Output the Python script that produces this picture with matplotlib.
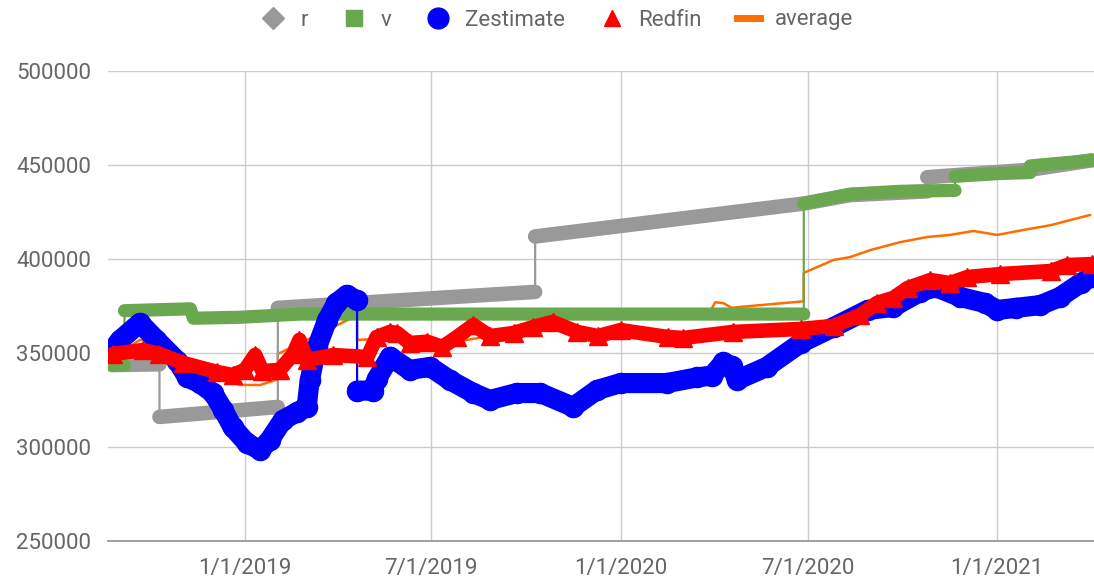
import numpy as np
import matplotlib
matplotlib.use("Agg")
import matplotlib.pyplot as plt
import matplotlib.dates as mdates
from matplotlib.lines import Line2D

plt.rcParams['font.family'] = ['Roboto', 'DejaVu Sans']

# --- data (None = a jump in the series) ---
r_dates = ['2018-08-25', '2018-10-10', None, '2018-10-10', '2019-02-02', None,
           '2019-02-02', '2019-10-10', None, '2019-10-10', '2020-06-27', '2020-08-11',
           '2020-10-25', None, '2020-10-25', '2021-02-02', '2021-04-03']
r_vals = [343600, 344000, None, 316000, 321300, None,
          374000, 382500, None, 412000, 429500, 434000,
          436000, None, 443500, 447500, 452500]

v_dates = ['2018-08-25', '2018-09-06', None, '2018-09-06', '2018-11-09', '2018-11-12',
           '2018-12-27', '2019-02-23', '2020-06-27', None, '2020-06-27', '2020-08-11',
           '2020-09-29', '2020-11-21', None, '2020-11-21', '2021-01-04', '2021-02-02', None,
           '2021-02-02', '2021-04-03']
v_vals = [343500, 343500, None, 372500, 373500, 368500,
          369000, 370700, 370700, None, 429500, 434500,
          436000, 436500, None, 444000, 445500, 446000, None,
          449500, 452500]

z_dates = ['2018-08-25', '2018-09-02', '2018-09-21', '2018-10-07', '2018-10-27', '2018-11-06',
           '2018-11-18', '2018-12-01', '2018-12-11', '2018-12-20', '2019-01-03', '2019-01-16',
           '2019-01-25', '2019-02-07', '2019-02-21', '2019-03-02', '2019-03-05', '2019-03-12',
           '2019-03-22', '2019-03-31', '2019-04-10', '2019-04-20', None,
           '2019-04-20', '2019-05-05', '2019-05-09', '2019-05-22', '2019-06-10', '2019-06-30',
           '2019-07-19', '2019-08-11', '2019-08-27', '2019-09-22', '2019-10-15', '2019-11-16',
           '2019-12-09', '2020-01-01', '2020-02-15', '2020-03-15', '2020-03-30', '2020-04-10',
           '2020-04-18', '2020-04-23', '2020-05-22', '2020-06-24', '2020-07-26', '2020-08-28',
           '2020-09-22', '2020-10-18', '2020-11-02', '2020-11-26', '2020-12-20', '2021-01-01',
           '2021-01-19', '2021-02-12', '2021-03-03', '2021-03-23', '2021-04-03']
z_vals = [351600, 357000, 366000, 357000, 346000, 337000,
          334000, 328700, 319700, 310600, 302000, 298400,
          303700, 314400, 318600, 321300, 335600, 353000,
          367600, 376600, 380900, 378000, None,
          330000, 330000, 336000, 348000, 341000, 342600,
          335600, 328700, 325000, 328700, 328700, 321300,
          330300, 334000, 334000, 337000, 338000, 345000,
          343000, 335600, 342600, 355300, 363800, 372900,
          374500, 382500, 385100, 379800, 376600, 372900,
          374000, 375500, 379800, 387200, 390500]

rf_dates = ['2018-08-26', '2018-09-24', '2018-10-10', '2018-11-02', '2018-12-05', '2018-12-20',
            '2019-01-01', '2019-01-11', '2019-01-18', '2019-02-04', '2019-02-17', '2019-02-23',
            '2019-03-02', '2019-03-28', '2019-04-30', '2019-05-09', '2019-05-22', '2019-05-29',
            '2019-06-10', '2019-06-27', '2019-07-12', '2019-07-26', '2019-08-11', '2019-08-27',
            '2019-09-19', '2019-10-08', '2019-10-27', '2019-11-20', '2019-12-10', '2020-01-01',
            '2020-02-16', '2020-03-02', '2020-04-19', '2020-06-24', '2020-07-26', '2020-08-21',
            '2020-09-06', '2020-09-22', '2020-10-06', '2020-10-28', '2020-11-16', '2020-12-03',
            '2021-01-04', '2021-02-22', '2021-03-10', '2021-04-03']
rf_vals = [349500, 351600, 349500, 344700, 339900, 338300,
           341000, 349000, 340400, 341000, 349500, 357000,
           346300, 348900, 347900, 358500, 361200, 360600,
           355300, 356000, 353200, 358500, 364900, 359000,
           360600, 363800, 366500, 361200, 359000, 362200,
           358500, 358000, 361200, 362800, 364400, 370200,
           376600, 379300, 384600, 388800, 387200, 390400,
           392000, 393600, 396800, 397300]

avg_dates = ['2018-08-25', '2018-09-21', '2018-10-10', '2018-10-10', '2018-11-18', '2018-12-27',
             '2019-01-16', '2019-02-02', '2019-02-02', '2019-02-23', '2019-04-20', '2019-04-20',
             '2019-06-10', '2019-07-14', '2019-08-27', '2019-10-10', '2019-10-10', '2020-01-01',
             '2020-03-28', '2020-04-02', '2020-04-10', '2020-04-18', '2020-04-26', '2020-06-27',
             '2020-06-27', '2020-07-26', '2020-08-11', '2020-08-31', '2020-09-29', '2020-10-25',
             '2020-11-16', '2020-12-09', '2021-01-01', '2021-01-26', '2021-02-22', '2021-04-01']
avg_vals = [347000, 357000, 355500, 349000, 341000, 333000,
            333000, 336000, 349500, 355000, 370000, 357000,
            358000, 355000, 359000, 361000, 369000, 371000,
            372000, 377000, 376500, 374000, 374500, 377500,
            392600, 399500, 401000, 404800, 409000, 411700,
            412800, 414900, 412800, 415400, 418000, 423400]

tick_dates = ['2019-01-01', '2019-07-01', '2020-01-01', '2020-07-01', '2021-01-01']
tick_labels = ['1/1/2019', '7/1/2019', '1/1/2020', '7/1/2020', '1/1/2021']
y_ticks = [250000, 300000, 350000, 400000, 450000, 500000]
series_names = ['r', 'v', 'Zestimate', 'Redfin', 'average']


def to_xy(dates, vals):
    x = np.array([np.nan if d is None else mdates.datestr2num(d) for d in dates])
    y = np.array([np.nan if v is None else v for v in vals], dtype=float)
    return x, y


def draw(ax, dates, vals, color, band, z, marker=None, ms=0):
    x, y = to_xy(dates, vals)
    # thick band of overlapping markers
    ax.plot(x, y, color=color, lw=band, solid_capstyle='round',
            solid_joinstyle='round', zorder=z)
    if marker:
        ax.plot(x, y, ls='none', marker=marker, ms=ms, color=color, zorder=z)
    # thin connecting line (shows the jumps)
    ok = ~np.isnan(y)
    ax.plot(x[ok], y[ok], color=color, lw=1.6, zorder=z)


fig = plt.figure(figsize=(10.94, 5.77), dpi=100)
ax = fig.add_axes([108 / 1094, 36 / 577, 986 / 1094, 470 / 577])

gray, green, blue, red, orange = '#999999', '#6aa84f', '#0000ff', '#ff0000', '#ff6d01'

x, y = to_xy(avg_dates, avg_vals)
ax.plot(x, y, color=orange, lw=1.8, zorder=1.5)
draw(ax, r_dates, r_vals, gray, 10.5, 2)
draw(ax, v_dates, v_vals, green, 9.5, 3)
draw(ax, z_dates, z_vals, blue, 14.5, 4, marker='o', ms=14.5)
draw(ax, rf_dates, rf_vals, red, 10.5, 5, marker='^', ms=13)

ax.set_xlim(mdates.datestr2num('2018-08-21'), mdates.datestr2num('2021-04-05'))
ax.set_ylim(250000, 500000)
ax.set_xticks([mdates.datestr2num(d) for d in tick_dates])
ax.set_xticklabels(tick_labels)
ax.set_yticks(y_ticks)
ax.set_yticklabels([str(v) for v in y_ticks])
ax.tick_params(length=0, labelsize=16, colors='#666666')
ax.tick_params(axis='y', pad=12)
ax.tick_params(axis='x', pad=12)
ax.grid(True, color='#cccccc', lw=1, zorder=0)
ax.set_axisbelow(True)
for s in ['top', 'right', 'left']:
    ax.spines[s].set_visible(False)
ax.spines['bottom'].set_color('#999999')
ax.spines['bottom'].set_linewidth(1.3)

handles = [
    Line2D([], [], ls='none', marker='D', ms=11, color=gray),
    Line2D([], [], ls='none', marker='s', ms=11, color=green),
    Line2D([], [], ls='none', marker='o', ms=15, color=blue),
    Line2D([], [], ls='none', marker='^', ms=12, color=red),
    Line2D([], [], color=orange, lw=5),
]
leg = fig.legend(handles, series_names, loc='center', bbox_to_anchor=(558 / 1094, 1 - 20 / 577),
                 ncol=5, frameon=False, fontsize=16, handlelength=1.0, handletextpad=0.7,
                 columnspacing=1.6)
for t in leg.get_texts():
    t.set_color('#666666')

fig.savefig('out.png', dpi=100)
